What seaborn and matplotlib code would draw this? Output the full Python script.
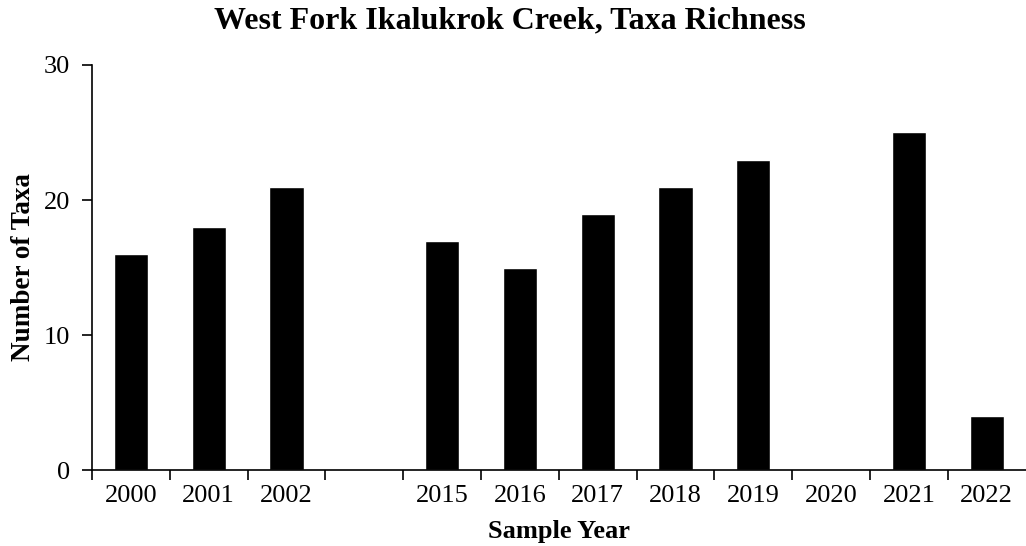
import pandas as pd
import numpy as np
import seaborn as sns
import matplotlib.pyplot as plt

# Data (blank slot between 2002 and 2015, no sample in 2020)
years = ["2000", "2001", "2002", "2015", "2016", "2017", "2018", "2019", "2021", "2022"]
taxa = [16, 18, 21, 17, 15, 19, 21, 23, 25, 4]
order = ["2000", "2001", "2002", " ", "2015", "2016", "2017", "2018", "2019", "2020", "2021", "2022"]

data = pd.DataFrame({"year": years, "taxa": taxa})

sns.set_style("white", {"text.color": "black", "axes.labelcolor": "black",
                        "xtick.color": "black", "ytick.color": "black"})
plt.rcParams["font.family"] = ["Liberation Serif", "DejaVu Serif"]

fig = plt.figure(figsize=(10.26, 5.46), dpi=100)
ax = fig.add_axes([0.0897, 0.139, 0.91, 0.742])

sns.barplot(data=data, x="year", y="taxa", order=order, color="black",
            width=0.44, saturation=1, ax=ax)

ax.set_ylim(0, 30)
ax.set_xlim(-0.5, len(order) - 0.5)
ax.set_yticks([0, 10, 20, 30])

# category boundary ticks, like the spreadsheet original
ax.set_xticks(np.arange(len(order)), labels=order)
ax.set_xticks(np.arange(len(order)) - 0.5, minor=True)
ax.tick_params(axis="x", which="major", length=0, labelsize=19, pad=11, bottom=True)
ax.tick_params(axis="x", which="minor", length=7, width=1.2, direction="out",
               color="black", bottom=True)
ax.tick_params(axis="y", length=7, width=1.2, direction="out", labelsize=19,
               color="black", left=True, pad=9)

for side in ["top", "right"]:
    ax.spines[side].set_visible(False)
for side in ["left", "bottom"]:
    ax.spines[side].set_color("black")
    ax.spines[side].set_linewidth(1.2)

ax.set_xlabel("Sample Year", fontsize=19, fontweight="bold", labelpad=9, color="black")
ax.set_ylabel("Number of Taxa", fontsize=19.5, fontweight="bold", labelpad=5, color="black")
# title is centred on the whole figure, not on the axes
ax.set_title("West Fork Ikalukrok Creek, Taxa Richness", fontsize=23,
             fontweight="bold", pad=26.5, x=0.448, color="black")

plt.savefig("out.png", dpi=100)
